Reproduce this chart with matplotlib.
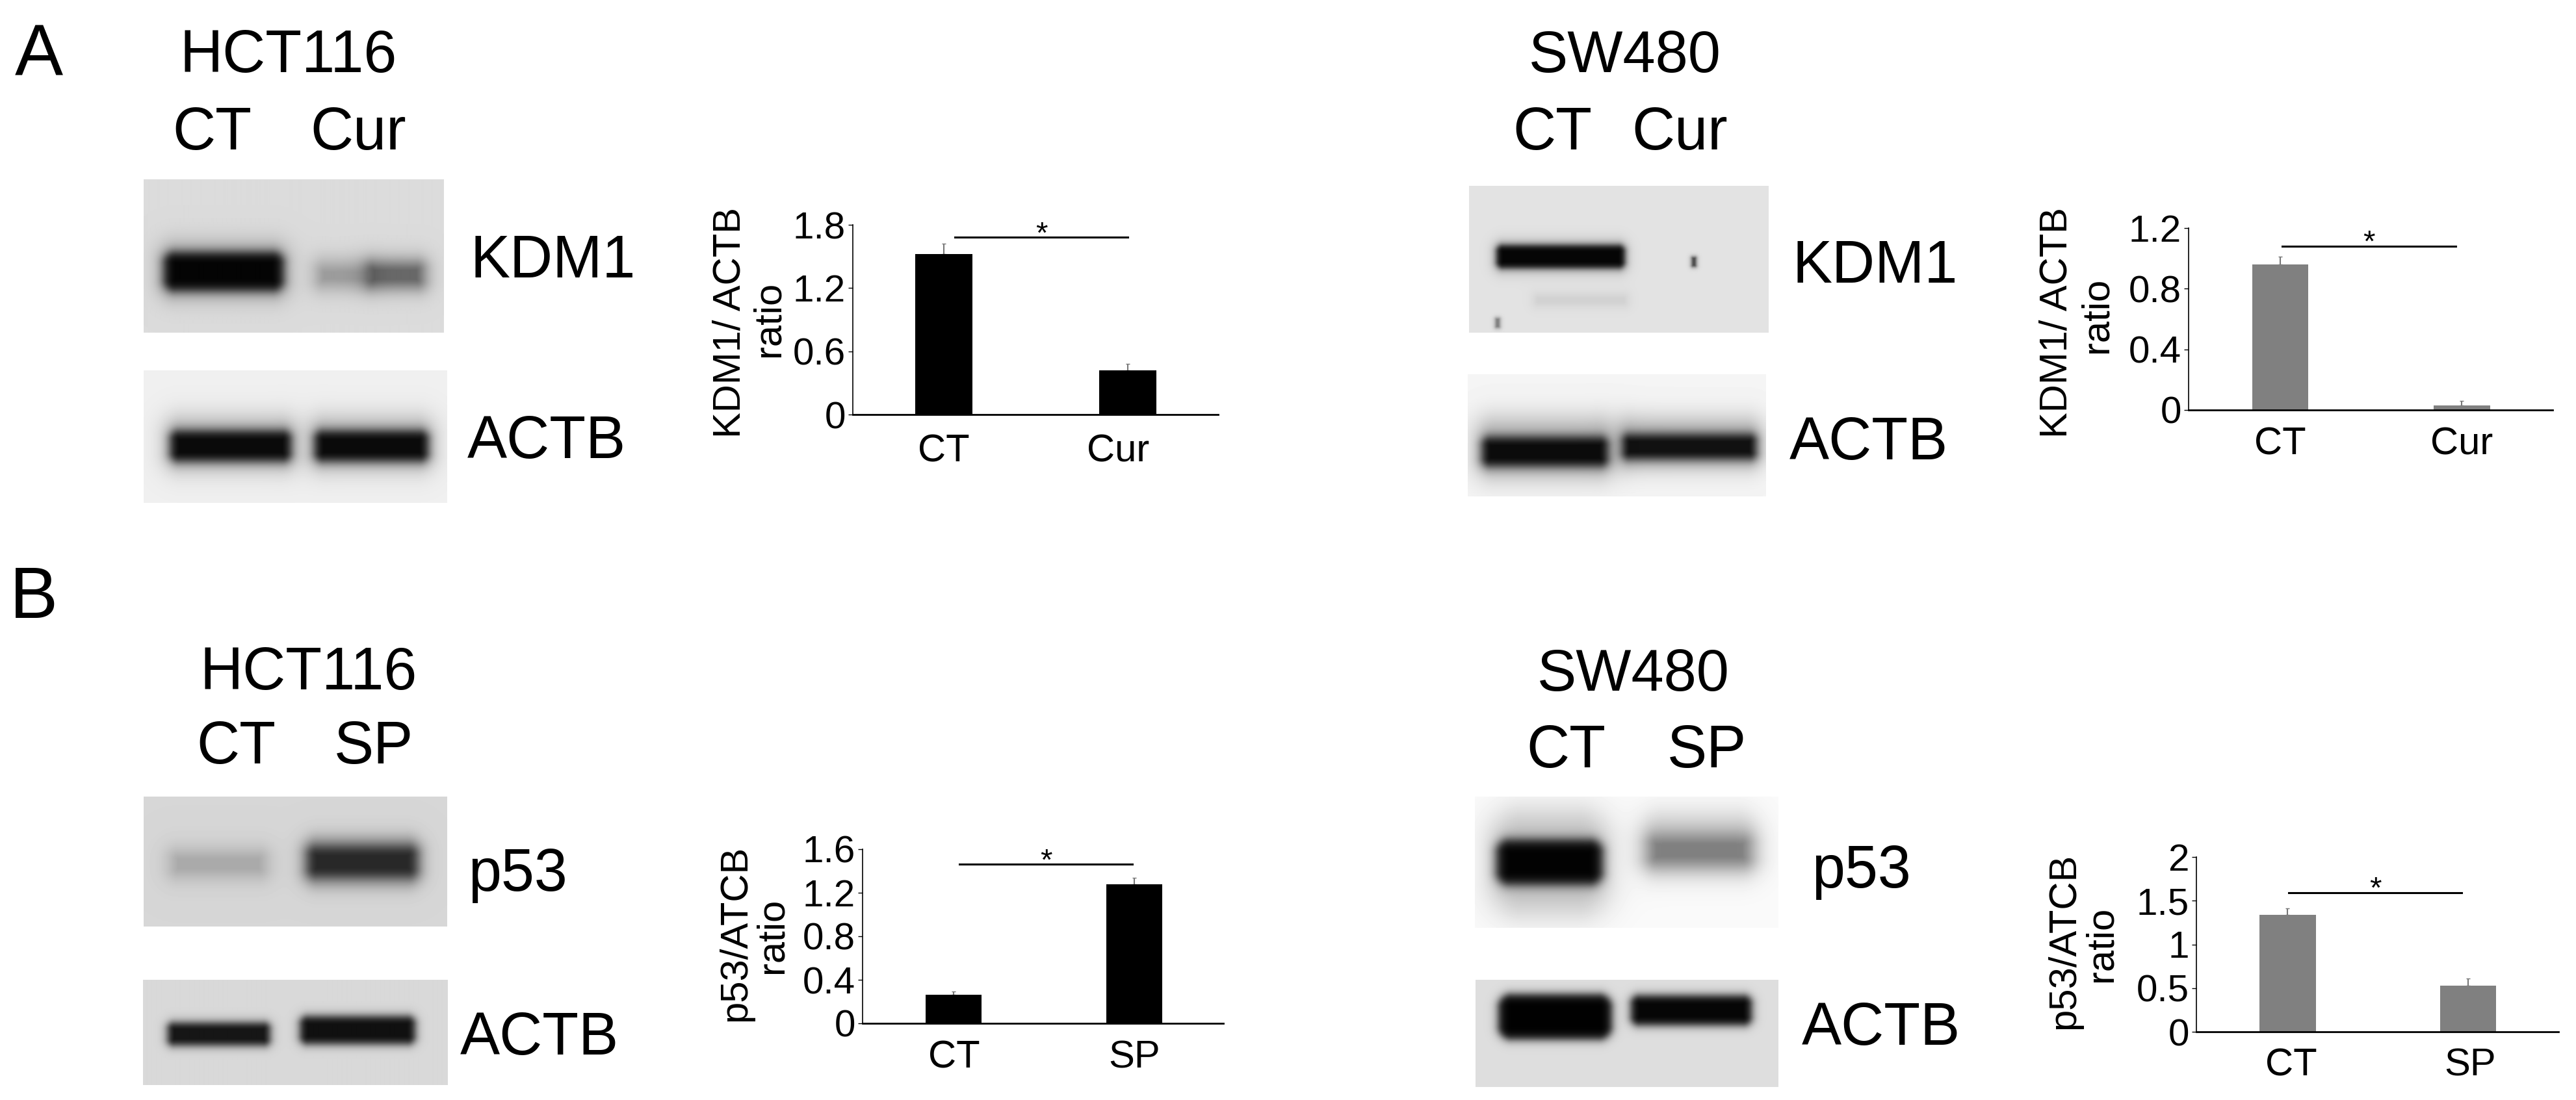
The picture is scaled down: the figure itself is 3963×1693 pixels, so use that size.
#!/usr/bin/env python3

# plot.py

import numpy as np
import matplotlib
matplotlib.use('Agg')
import matplotlib.pyplot as plt

W, H = 3963, 1693
BLACK_BAR = '#000000'
GRAY_BAR = '#808080'

plt.rcParams['font.family'] = ['Liberation Sans', 'DejaVu Sans']

# bar values
kdm1_hct_vals = [1.52, 0.42]
kdm1_hct_errs = [0.10, 0.06]
kdm1_sw_vals = [0.96, 0.03]
kdm1_sw_errs = [0.05, 0.03]
p53_hct_vals = [0.265, 1.28]
p53_hct_errs = [0.03, 0.06]
p53_sw_vals = [1.34, 0.53]
p53_sw_errs = [0.07, 0.08]

cats_cur = ['CT', 'Cur']
cats_sp = ['CT', 'SP']

ticks_a = [0, 0.6, 1.2, 1.8]
ticks_b = [0, 0.4, 0.8, 1.2]
ticks_c = [0, 0.4, 0.8, 1.2, 1.6]
ticks_d = [0, 0.5, 1, 1.5, 2]
ticklabels_a = ['0', '0.6', '1.2', '1.8']
ticklabels_b = ['0', '0.4', '0.8', '1.2']
ticklabels_c = ['0', '0.4', '0.8', '1.2', '1.6']
ticklabels_d = ['0', '0.5', '1', '1.5', '2']

# blots: bands are x0, x1, y0, y1, darkness, edge softness, in reference pixels
blot_kdm1_hct = [
    (252, 436, 388, 448, 1.0, 5), (245, 442, 372, 462, 0.2, 10),
    (490, 570, 412, 436, 0.3, 9), (565, 650, 406, 440, 0.6, 8),
    (485, 655, 396, 448, 0.12, 9),
]
blot_actb_hct = [
    (262, 448, 663, 710, 1.0, 5), (256, 454, 642, 724, 0.25, 11),
    (484, 659, 663, 710, 1.0, 5), (478, 664, 642, 724, 0.25, 11),
]
blot_kdm1_sw = [
    (2302, 2500, 377, 413, 1.0, 3), (2298, 2503, 368, 422, 0.14, 6),
    (2363, 2501, 456, 468, 0.12, 6), (2603, 2609, 396, 410, 0.9, 2),
    (2301, 2307, 490, 504, 0.6, 2),
]
blot_actb_sw = [
    (2280, 2474, 673, 718, 1.0, 5), (2274, 2480, 645, 735, 0.28, 12),
    (2496, 2702, 669, 707, 1.0, 5), (2490, 2707, 645, 720, 0.28, 11),
]
blot_p53_hct = [
    (264, 408, 1312, 1347, 0.28, 10),
    (473, 642, 1303, 1350, 0.8, 6), (468, 646, 1288, 1364, 0.3, 8),
]
blot_actb_p53_hct = [
    (258, 415, 1574, 1609, 0.96, 4),
    (461, 638, 1564, 1607, 0.96, 4),
]
blot_p53_sw = [
    (2302, 2466, 1292, 1362, 1.0, 5), (2296, 2472, 1250, 1405, 0.24, 15),
    (2535, 2694, 1286, 1332, 0.5, 10), (2530, 2699, 1250, 1345, 0.16, 12),
]
blot_actb_p53_sw = [
    (2305, 2480, 1530, 1600, 1.0, 4), (2509, 2695, 1532, 1578, 1.0, 4),
]

fig = plt.figure(figsize=(W / 100, H / 100), dpi=100, facecolor='white')


def px_axes(x0, y0, x1, y1):
    return fig.add_axes([x0 / W, 1 - y1 / H, (x1 - x0) / W, (y1 - y0) / H])


def px_text(x, y, s, size, ha='center', rotation=0):
    fig.text(x / W, 1 - y / H, s, fontsize=size, ha=ha, va='center', rotation=rotation, color='black')


def draw_blot(x0, y0, x1, y1, bg, bands):
    xs, ys = np.meshgrid(np.arange(x0, x1) + 0.5, np.arange(y0, y1) + 0.5)
    img = np.full(xs.shape, bg, dtype=float)
    for bx0, bx1, by0, by1, dark, soft in bands:
        hw, hh = (bx1 - bx0) / 2, (by1 - by0) / 2
        corner = 0.6 * min(hw, hh)
        dx = np.maximum(np.abs(xs - (bx0 + bx1) / 2) - (hw - corner), 0)
        dy = np.maximum(np.abs(ys - (by0 + by1) / 2) - (hh - corner), 0)
        dist = np.hypot(dx, dy) - corner
        img = img * (1 - dark / (1 + np.exp(np.clip(dist / soft, -50, 50))))
    ax = px_axes(x0, y0, x1, y1)
    ax.imshow(img, cmap='gray', vmin=0, vmax=1, aspect='auto', interpolation='bilinear')
    ax.axis('off')


def draw_bars(box, ymax, xlim, vals, errs, color, cats, ticks, ticklabels, sig_x, sig_y, label_x=(0, 1), label_pad=18):
    ax = px_axes(*box)
    xpos = [0, 1]
    ax.bar(xpos, vals, width=0.31, color=color, zorder=2)
    ax.errorbar(xpos, vals, yerr=[[0, 0], errs], fmt='none', ecolor='#777777',
                elinewidth=1.5, capsize=2, capthick=1, zorder=1)
    ax.plot(sig_x, [sig_y, sig_y], color='black', lw=2.2, clip_on=False)
    ax.annotate('*', (np.mean(sig_x), sig_y), xytext=(0, -13), textcoords='offset points',
                fontsize=34, ha='center', va='bottom', color='black', annotation_clip=False)
    ax.set_xlim(*xlim)
    ax.set_ylim(0, ymax)
    ax.set_xticks(list(label_x), cats)
    ax.set_yticks(ticks, ticklabels)
    ax.tick_params(axis='x', length=0, labelsize=43, pad=label_pad)
    ax.tick_params(axis='y', length=5, width=1, labelsize=42, pad=3)
    for side in ['top', 'right']:
        ax.spines[side].set_visible(False)
    ax.spines['left'].set_linewidth(1.2)
    ax.spines['bottom'].set_linewidth(2)
    ax.patch.set_alpha(0)
    return ax


draw_blot(221, 276, 682, 512, 0.86, blot_kdm1_hct)
draw_blot(221, 570, 688, 774, 0.94, blot_actb_hct)
draw_blot(2260, 286, 2721, 512, 0.89, blot_kdm1_sw)
draw_blot(2258, 576, 2717, 764, 0.96, blot_actb_sw)
draw_blot(221, 1226, 688, 1426, 0.84, blot_p53_hct)
draw_blot(220, 1508, 688, 1670, 0.85, blot_actb_p53_hct)
draw_blot(2269, 1226, 2736, 1428, 0.98, blot_p53_sw)
draw_blot(2270, 1508, 2736, 1673, 0.87, blot_actb_p53_sw)

draw_bars((1312, 346, 1874, 638), 1.8, (-0.495, 1.49), kdm1_hct_vals, kdm1_hct_errs, BLACK_BAR,
          cats_cur, ticks_a, ticklabels_a, [0.06, 1.0], 1.68, label_x=(0, 0.945), label_pad=21)
draw_bars((3367, 351, 3927, 631), 1.2, (-0.505, 1.50), kdm1_sw_vals, kdm1_sw_errs, GRAY_BAR,
          cats_cur, ticks_b, ticklabels_b, [0.01, 0.965], 1.08)
draw_bars((1327, 1307, 1882, 1575), 1.6, (-0.506, 1.494), p53_hct_vals, p53_hct_errs, BLACK_BAR,
          cats_sp, ticks_c, ticklabels_c, [0.03, 0.99], 1.46)
draw_bars((3379, 1319, 3936, 1588), 2, (-0.506, 1.50), p53_sw_vals, p53_sw_errs, GRAY_BAR,
          cats_sp, ticks_d, ticklabels_d, [0.005, 0.965], 1.59, label_x=(0.02, 1.01))

px_text(60, 87, 'A', 80)
px_text(52, 922, 'B', 80)

px_text(444, 87, 'HCT116', 66)
px_text(326, 206, 'CT', 66)
px_text(551, 206, 'Cur', 66)
px_text(2500, 87, 'SW480', 65)
px_text(2388, 206, 'CT', 66)
px_text(2584, 206, 'Cur', 66)
px_text(475, 1037, 'HCT116', 66)
px_text(363, 1151, 'CT', 66)
px_text(575, 1151, 'SP', 66)
px_text(2513, 1039, 'SW480', 65)
px_text(2409, 1157, 'CT', 66)
px_text(2626, 1157, 'SP', 66)

px_text(723, 403, 'KDM1', 66, ha='left')
px_text(719, 681, 'ACTB', 66, ha='left')
px_text(2757, 411, 'KDM1', 66, ha='left')
px_text(2753, 683, 'ACTB', 66, ha='left')
px_text(720, 1347, 'p53', 66, ha='left')
px_text(708, 1599, 'ACTB', 66, ha='left')
px_text(2787, 1342, 'p53', 66, ha='left')
px_text(2772, 1584, 'ACTB', 66, ha='left')

px_text(1123, 496, 'KDM1/ ACTB', 43, rotation=90)
px_text(1183, 491, 'ratio', 43, rotation=90)
px_text(3164, 496, 'KDM1/ ACTB', 43, rotation=90)
px_text(3226, 485, 'ratio', 43, rotation=90)
px_text(1132, 1436, 'p53/ATCB', 43, rotation=90)
px_text(1188, 1440, 'ratio', 43, rotation=90)
px_text(3176, 1448, 'p53/ATCB', 43, rotation=90)
px_text(3233, 1453, 'ratio', 43, rotation=90)

fig.savefig('out.png', dpi=100)
plt.close(fig)
